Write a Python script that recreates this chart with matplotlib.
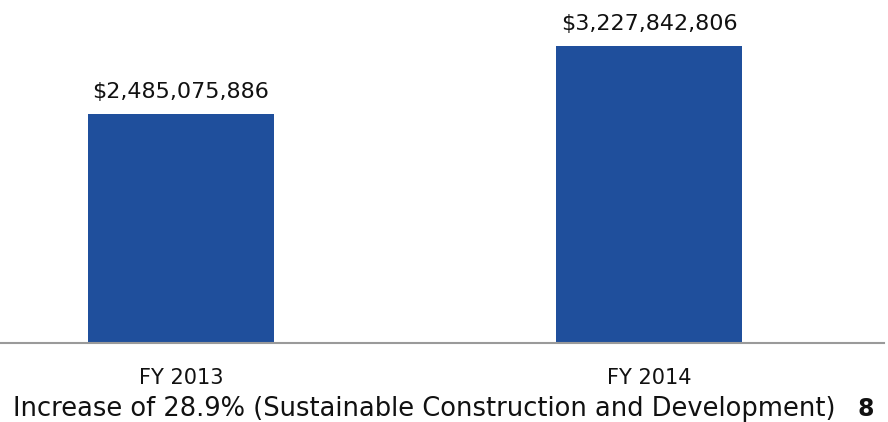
import matplotlib
matplotlib.use("Agg")
import matplotlib.pyplot as plt

categories = ["FY 2013", "FY 2014"]
values = [2485075886, 3227842806]
value_labels = ["$2,485,075,886", "$3,227,842,806"]
caption = "Increase of 28.9% (Sustainable Construction and Development)"
page_number = "8"

plt.rcParams['font.family'] = ['DejaVu Sans']

W, H = 888, 422
fig = plt.figure(figsize=(W / 100, H / 100), dpi=100)
ax = fig.add_axes([0 / W, (H - 343) / H, 884 / W, 343 / H])

bar_color = "#1F4F9C"
x = list(range(len(categories)))
ax.bar(x, values, width=0.397, color=bar_color, zorder=2)

scale = 297 / 3227842806  # px per unit
ax.set_ylim(0, 343 / scale)
ax.set_xlim(-181 / 468, (884 - 181) / 468)

for xi, v, lab in zip(x, values, value_labels):
    ax.text(xi, v + 12 / scale, lab, ha="center", va="bottom", fontsize=16, color="#111111")

for s in ["top", "right", "left"]:
    ax.spines[s].set_visible(False)
ax.spines["bottom"].set_color("#9A9A9A")
ax.spines["bottom"].set_linewidth(1.5)
ax.set_yticks([])
ax.set_xticks(x)
ax.set_xticklabels(categories, fontsize=15, color="#111111")
ax.tick_params(axis="x", length=0, pad=18)

fig.text(424 / W, 1 - 409 / H, caption, ha="center", va="center", fontsize=18.5, color="#111111")
fig.text(866 / W, 1 - 421 / H, page_number, ha="center", va="bottom", fontsize=17,
         fontweight="bold", color="#111111")

fig.savefig("out.png", dpi=100)
